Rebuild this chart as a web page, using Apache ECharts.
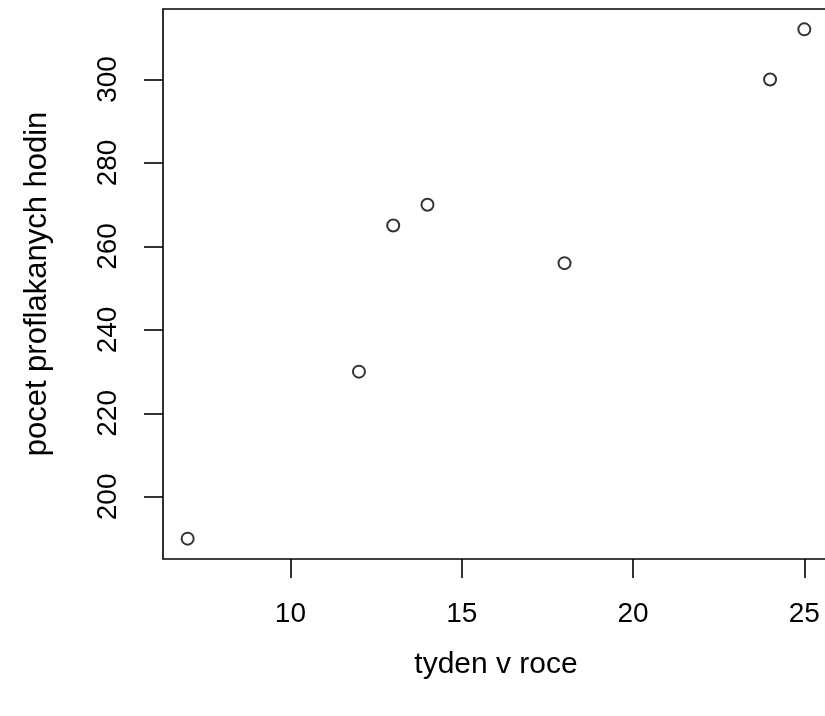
<!DOCTYPE html>
<html>
<head>
<meta charset="utf-8">
<script src="https://cdn.jsdelivr.net/npm/echarts@6/dist/echarts.min.js"></script>
<style>html,body{margin:0;padding:0;background:#fff;overflow:hidden;width:825px;height:716px}#c{width:860px;height:716px}</style>
</head>
<body>
<div id="c"></div>
<script>
var weeks = [7, 12, 13, 14, 18, 24, 25];
var hours = [190, 230, 265, 270, 256, 300, 312];
var xTicks = [10, 15, 20, 25];
var yTicks = [200, 220, 240, 260, 280, 300];
var xTitle = 'tyden v roce';
var yTitle = 'pocet proflakanych hodin';

function pad(a) { var mn = Math.min.apply(null, a), mx = Math.max.apply(null, a), d = (mx - mn) * 0.04; return [mn - d, mx + d]; }
var xr = pad(weeks), yr = pad(hours);
var font = 'Liberation Sans, Arial, sans-serif';
var line = { color: '#000', width: 1.6 };
var chart = echarts.init(document.getElementById('c'));
chart.setOption({
  animation: false,
  grid: { left: 163, top: 9, width: 666, height: 550, containLabel: false, outerBoundsMode: 'none', show: true, borderColor: '#000', borderWidth: 1.6, backgroundColor: 'transparent' },
  xAxis: {
    type: 'value', min: xr[0], max: xr[1], position: 'bottom',
    name: xTitle, nameLocation: 'middle', nameGap: 91,
    nameTextStyle: { fontFamily: font, fontSize: 30, color: '#000' },
    axisLine: { show: false },
    splitLine: { show: false },
    axisTick: { show: true, length: 19, customValues: xTicks, lineStyle: line },
    axisLabel: { customValues: xTicks, margin: 41, fontFamily: font, fontSize: 28, color: '#000' }
  },
  yAxis: {
    type: 'value', min: yr[0], max: yr[1],
    name: yTitle, nameLocation: 'middle', nameGap: 110, nameRotate: 90,
    nameTextStyle: { fontFamily: font, fontSize: 31, color: '#000' },
    axisLine: { show: false },
    splitLine: { show: false },
    axisTick: { show: true, length: 19, customValues: yTicks, lineStyle: line },
    axisLabel: { customValues: yTicks, rotate: 90, margin: 41, fontFamily: font, fontSize: 28, color: '#000' }
  },
  series: [{
    type: 'scatter',
    data: weeks.map(function (w, i) { return [w, hours[i]]; }),
    symbol: 'circle', symbolSize: 12,
    itemStyle: { color: 'rgba(255,255,255,0)', borderColor: '#000', borderWidth: 2 }
  }]
});
</script>
</body>
</html>
